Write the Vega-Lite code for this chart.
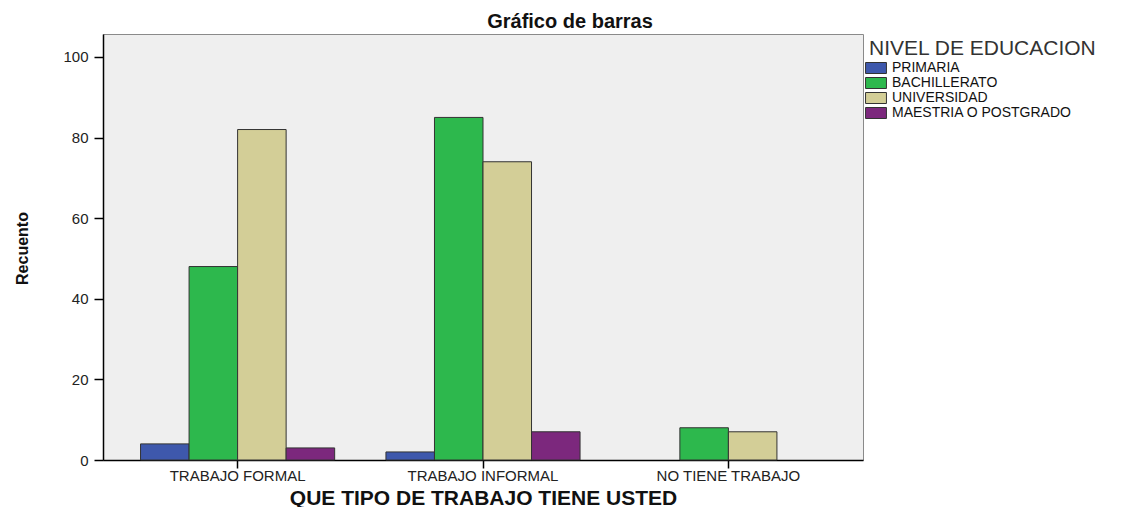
{
  "$schema": "https://vega.github.io/schema/vega-lite/v6.json",
  "width": 760,
  "height": 426,
  "autosize": {"type": "none"},
  "padding": {"left": 103, "top": 34, "right": 276, "bottom": 47},
  "background": "white",
  "title": {
    "text": "Gráfico de barras",
    "font": "Liberation Sans",
    "fontSize": 20,
    "fontWeight": "bold",
    "color": "#111111",
    "anchor": "middle",
    "frame": "group",
    "dx": 87,
    "dy": 21,
    "baseline": "alphabetic",
    "offset": 7
  },
  "data": {
    "values": [
      {"trabajo": "TRABAJO FORMAL", "nivel": "PRIMARIA", "recuento": 4},
      {"trabajo": "TRABAJO FORMAL", "nivel": "BACHILLERATO", "recuento": 48},
      {"trabajo": "TRABAJO FORMAL", "nivel": "UNIVERSIDAD", "recuento": 82},
      {"trabajo": "TRABAJO FORMAL", "nivel": "MAESTRIA O POSTGRADO", "recuento": 3},
      {"trabajo": "TRABAJO INFORMAL", "nivel": "PRIMARIA", "recuento": 2},
      {"trabajo": "TRABAJO INFORMAL", "nivel": "BACHILLERATO", "recuento": 85},
      {"trabajo": "TRABAJO INFORMAL", "nivel": "UNIVERSIDAD", "recuento": 74},
      {"trabajo": "TRABAJO INFORMAL", "nivel": "MAESTRIA O POSTGRADO", "recuento": 7},
      {"trabajo": "NO TIENE TRABAJO", "nivel": "BACHILLERATO", "recuento": 8},
      {"trabajo": "NO TIENE TRABAJO", "nivel": "UNIVERSIDAD", "recuento": 7}
    ]
  },
  "mark": {"type": "bar", "stroke": "#333333", "strokeWidth": 1},
  "encoding": {
    "x": {
      "field": "trabajo",
      "type": "nominal",
      "sort": ["TRABAJO FORMAL", "TRABAJO INFORMAL", "NO TIENE TRABAJO"],
      "scale": {"paddingInner": 0.209, "paddingOuter": 0.153},
      "axis": {
        "title": "QUE TIPO DE TRABAJO TIENE USTED",
        "labelAngle": 0,
        "labelFont": "Liberation Sans",
        "labelFontSize": 15,
        "labelColor": "#222222",
        "labelPadding": 0,
        "tickSize": 8,
        "tickColor": "#000000",
        "tickWidth": 1.5,
        "domainColor": "#000000",
        "domainWidth": 1.5,
        "titleFont": "Liberation Sans",
        "titleFontSize": 21,
        "titleFontWeight": "bold",
        "titleColor": "#111111",
        "titleBaseline": "alphabetic",
        "titleY": 44
      }
    },
    "xOffset": {
      "field": "nivel",
      "type": "nominal",
      "scale": {"domain": ["PRIMARIA", "BACHILLERATO", "UNIVERSIDAD", "MAESTRIA O POSTGRADO"]}
    },
    "y": {
      "field": "recuento",
      "type": "quantitative",
      "scale": {"domain": [0, 105.7], "nice": false},
      "axis": {
        "title": "Recuento",
        "values": [0, 20, 40, 60, 80, 100],
        "grid": false,
        "labelFont": "Liberation Sans",
        "labelFontSize": 15,
        "labelColor": "#222222",
        "labelPadding": 6,
        "tickSize": 9,
        "tickColor": "#000000",
        "tickWidth": 1.5,
        "domainColor": "#000000",
        "domainWidth": 1.5,
        "titleFont": "Liberation Sans",
        "titleFontSize": 16,
        "titleFontWeight": "bold",
        "titleColor": "#111111",
        "titleAngle": 270,
        "titleX": -81,
        "titleY": 214,
        "titleAlign": "center",
        "titleBaseline": "middle"
      }
    },
    "color": {
      "field": "nivel",
      "type": "nominal",
      "scale": {
        "domain": ["PRIMARIA", "BACHILLERATO", "UNIVERSIDAD", "MAESTRIA O POSTGRADO"],
        "range": ["#3e58ac", "#2db84d", "#d3ce97", "#7c287d"]
      },
      "legend": {
        "title": "NIVEL DE EDUCACION",
        "orient": "none",
        "legendX": 766,
        "legendY": 4,
        "titleFont": "Liberation Sans",
        "titleFontSize": 21,
        "titleFontWeight": "normal",
        "titleColor": "#333333",
        "titlePadding": 2,
        "titleLimit": 400,
        "labelLimit": 400,
        "labelFont": "Liberation Sans",
        "labelFontSize": 14,
        "labelColor": "#111111",
        "labelOffset": 9,
        "symbolType": "M-1.9,-1H1.9V1H-1.9Z",
        "symbolSize": 121,
        "symbolStrokeColor": "#333333",
        "symbolStrokeWidth": 1,
        "symbolOpacity": 1,
        "rowPadding": -2
      }
    }
  },
  "config": {
    "view": {"fill": "#efefef", "stroke": "#8a8a8a", "strokeWidth": 1}
  }
}
